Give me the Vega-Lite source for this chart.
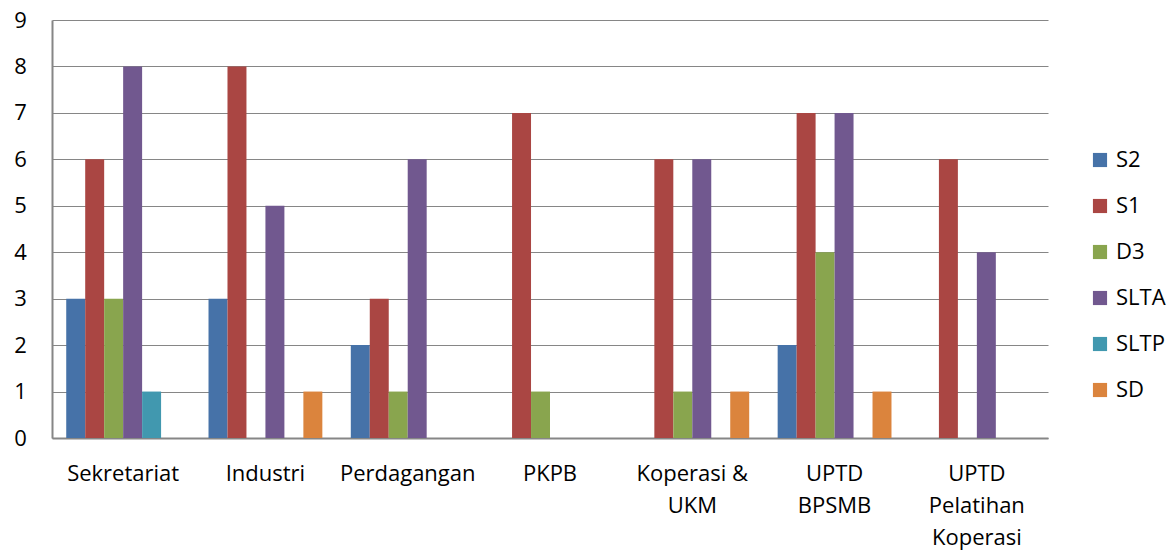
{
  "$schema": "https://vega.github.io/schema/vega-lite/v6.json",
  "width": 996,
  "height": 418,
  "autosize": "none",
  "padding": {"left": 52, "top": 20, "right": 122, "bottom": 116},
  "background": "white",
  "config": {
    "view": {"stroke": null},
    "font": "Open Sans",
    "axis": {"labelFont": "Open Sans", "labelColor": "#000000", "labelFontSize": 22}
  },
  "data": {
    "values": [
      {"unit": "Sekretariat", "level": "S2", "count": 3},
      {"unit": "Sekretariat", "level": "S1", "count": 6},
      {"unit": "Sekretariat", "level": "D3", "count": 3},
      {"unit": "Sekretariat", "level": "SLTA", "count": 8},
      {"unit": "Sekretariat", "level": "SLTP", "count": 1},
      {"unit": "Sekretariat", "level": "SD", "count": 0},
      {"unit": "Industri", "level": "S2", "count": 3},
      {"unit": "Industri", "level": "S1", "count": 8},
      {"unit": "Industri", "level": "D3", "count": 0},
      {"unit": "Industri", "level": "SLTA", "count": 5},
      {"unit": "Industri", "level": "SLTP", "count": 0},
      {"unit": "Industri", "level": "SD", "count": 1},
      {"unit": "Perdagangan", "level": "S2", "count": 2},
      {"unit": "Perdagangan", "level": "S1", "count": 3},
      {"unit": "Perdagangan", "level": "D3", "count": 1},
      {"unit": "Perdagangan", "level": "SLTA", "count": 6},
      {"unit": "Perdagangan", "level": "SLTP", "count": 0},
      {"unit": "Perdagangan", "level": "SD", "count": 0},
      {"unit": "PKPB", "level": "S2", "count": 0},
      {"unit": "PKPB", "level": "S1", "count": 7},
      {"unit": "PKPB", "level": "D3", "count": 1},
      {"unit": "PKPB", "level": "SLTA", "count": 0},
      {"unit": "PKPB", "level": "SLTP", "count": 0},
      {"unit": "PKPB", "level": "SD", "count": 0},
      {"unit": "Koperasi & UKM", "level": "S2", "count": 0},
      {"unit": "Koperasi & UKM", "level": "S1", "count": 6},
      {"unit": "Koperasi & UKM", "level": "D3", "count": 1},
      {"unit": "Koperasi & UKM", "level": "SLTA", "count": 6},
      {"unit": "Koperasi & UKM", "level": "SLTP", "count": 0},
      {"unit": "Koperasi & UKM", "level": "SD", "count": 1},
      {"unit": "UPTD BPSMB", "level": "S2", "count": 2},
      {"unit": "UPTD BPSMB", "level": "S1", "count": 7},
      {"unit": "UPTD BPSMB", "level": "D3", "count": 4},
      {"unit": "UPTD BPSMB", "level": "SLTA", "count": 7},
      {"unit": "UPTD BPSMB", "level": "SLTP", "count": 0},
      {"unit": "UPTD BPSMB", "level": "SD", "count": 1},
      {"unit": "UPTD Pelatihan Koperasi", "level": "S2", "count": 0},
      {"unit": "UPTD Pelatihan Koperasi", "level": "S1", "count": 6},
      {"unit": "UPTD Pelatihan Koperasi", "level": "D3", "count": 0},
      {"unit": "UPTD Pelatihan Koperasi", "level": "SLTA", "count": 4},
      {"unit": "UPTD Pelatihan Koperasi", "level": "SLTP", "count": 0},
      {"unit": "UPTD Pelatihan Koperasi", "level": "SD", "count": 0}
    ]
  },
  "mark": {"type": "bar"},
  "encoding": {
    "x": {
      "field": "unit",
      "type": "nominal",
      "sort": null,
      "title": null,
      "scale": {"paddingInner": 0.2, "paddingOuter": 0.1},
      "axis": {
        "labelAngle": 0,
        "ticks": false,
        "domainColor": "#868686",
        "domainWidth": 2,
        "labelPadding": 25,
        "labelLineHeight": 32,
        "labelBaseline": "top",
        "labelExpr": "datum.value == 'Koperasi & UKM' ? ['Koperasi &', 'UKM'] : datum.value == 'UPTD BPSMB' ? ['UPTD', 'BPSMB'] : datum.value == 'UPTD Pelatihan Koperasi' ? ['UPTD', 'Pelatihan', 'Koperasi'] : datum.value"
      }
    },
    "xOffset": {
      "field": "level",
      "type": "nominal",
      "sort": ["S2", "S1", "D3", "SLTA", "SLTP", "SD"],
      "scale": {"paddingInner": 0, "paddingOuter": 0}
    },
    "y": {
      "field": "count",
      "type": "quantitative",
      "title": null,
      "scale": {"domain": [0, 9]},
      "axis": {
        "values": [0, 1, 2, 3, 4, 5, 6, 7, 8, 9],
        "ticks": false,
        "domainColor": "#868686",
        "domainWidth": 2,
        "gridColor": "#868686",
        "gridWidth": 1,
        "labelPadding": 32,
        "labelAlign": "center"
      }
    },
    "color": {
      "field": "level",
      "type": "nominal",
      "sort": ["S2", "S1", "D3", "SLTA", "SLTP", "SD"],
      "scale": {
        "domain": ["S2", "S1", "D3", "SLTA", "SLTP", "SD"],
        "range": ["#4672A8", "#AA4643", "#89A54E", "#71588F", "#4198AF", "#DB843D"]
      },
      "legend": {
        "title": null,
        "orient": "none",
        "legendX": 1037,
        "legendY": 129,
        "symbolType": "square",
        "symbolSize": 200,
        "symbolStrokeWidth": 0,
        "labelFont": "Open Sans",
        "labelFontSize": 22,
        "labelColor": "#000000",
        "rowPadding": 24,
        "labelOffset": 5
      }
    }
  }
}
